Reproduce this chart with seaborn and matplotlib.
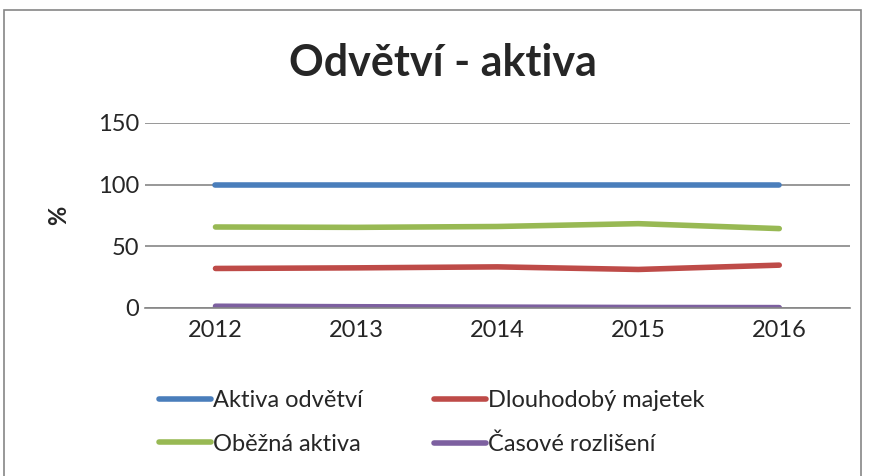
import pandas as pd
import matplotlib.pyplot as plt
import seaborn as sns
from matplotlib.patches import Rectangle

# Data
years = ["2012", "2013", "2014", "2015", "2016"]
aktiva_odvetvi = [100, 100, 100, 100, 100]
dlouhodoby_majetek = [32.0, 32.5, 33.3, 31.2, 34.7]
obezna_aktiva = [65.6, 65.3, 66.0, 68.3, 64.3]
casove_rozliseni = [1.4, 1.0, 0.7, 0.4, 0.3]

series_names = ["Aktiva odvětví", "Dlouhodobý majetek", "Oběžná aktiva", "Časové rozlišení"]
colors = ["#4a7ebb", "#be4b48", "#98b954", "#7d60a0"]

df = pd.DataFrame({
    "rok": years * 4,
    "hodnota": aktiva_odvetvi + dlouhodoby_majetek + obezna_aktiva + casove_rozliseni,
    "rada": [n for n in series_names for _ in years],
})

sns.set_style("white")
plt.rcParams["font.family"] = ["Lato", "DejaVu Sans"]

fig = plt.figure(figsize=(8.7, 4.76), dpi=100)
ax = fig.add_axes([0.1667, 0.353, 0.81, 0.389])

sns.lineplot(data=df, x="rok", y="hodnota", hue="rada", palette=colors,
             hue_order=series_names, linewidth=4, ax=ax, sort=False,
             solid_capstyle="round", legend=True)

ax.set_ylim(0, 150)
ax.set_xlim(-0.5, 4.5)
ax.set_yticks([0, 50, 100, 150])
ax.yaxis.grid(True, color="#868686", linewidth=1.2)
ax.set_axisbelow(True)
for s in ["left", "right", "top"]:
    ax.spines[s].set_visible(False)
ax.spines["bottom"].set_color("#868686")
ax.spines["bottom"].set_linewidth(1.2)
ax.tick_params(axis="y", labelsize=17, length=0, pad=4)
ax.tick_params(axis="x", labelsize=17, length=0, pad=9)
ax.set_xlabel("")
ax.set_ylabel("%", fontsize=17, fontweight="bold", labelpad=20)

fig.text(0.509, 0.868, "Odvětví - aktiva", ha="center", va="center",
         fontsize=31, fontweight="bold")

handles, labels = ax.get_legend_handles_labels()
ax.get_legend().remove()
order = [0, 2, 1, 3]  # row-wise: Aktiva / Dlouhodobý, Oběžná / Časové
fig.legend([handles[i] for i in order], [labels[i] for i in order],
           loc="upper left", bbox_to_anchor=(0.172, 0.2),
           ncol=2, frameon=False, fontsize=17, handlelength=2.2,
           handletextpad=0.1, columnspacing=3.0, labelspacing=0.95,
           borderaxespad=0)

fig.add_artist(Rectangle((0.005, -0.01), 0.985, 0.99, transform=fig.transFigure,
                         fill=False, edgecolor="#868686", linewidth=1.2))

fig.savefig("out.png", dpi=100)
